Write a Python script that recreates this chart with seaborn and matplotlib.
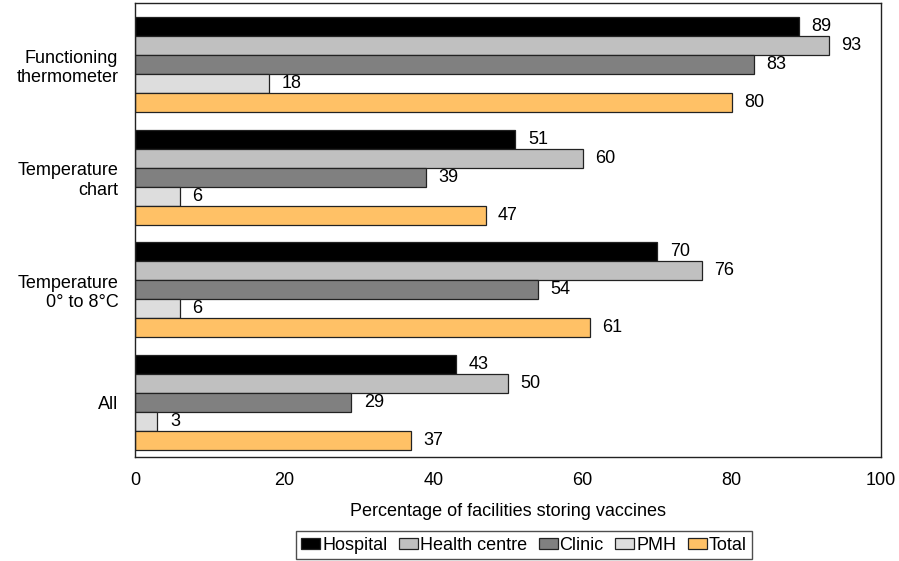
import matplotlib
matplotlib.use("Agg")
import matplotlib.pyplot as plt
import seaborn as sns
import pandas as pd
from matplotlib.patches import Patch

# Indicators (y categories) and facility types (hue)
indicators = ["Functioning\nthermometer", "Temperature\nchart", "Temperature\n0° to 8°C", "All"]
facilities = ["Hospital", "Health centre", "Clinic", "PMH", "Total"]

hospital = [89, 51, 70, 43]
health_centre = [93, 60, 76, 50]
clinic = [83, 39, 54, 29]
pmh = [18, 6, 6, 3]
total = [80, 47, 61, 37]

colors = ["#000000", "#C0C0C0", "#808080", "#DDDDDD", "#FFC166"]

series = [hospital, health_centre, clinic, pmh, total]
rows = []
for fac, vals in zip(facilities, series):
    for ind, v in zip(indicators, vals):
        rows.append({"indicator": ind, "facility": fac, "value": v})
df = pd.DataFrame(rows)

FS = 13

sns.set_theme(style="white")
plt.rcParams["font.family"] = ["Liberation Sans", "DejaVu Sans"]
plt.rcParams["font.size"] = FS
plt.rcParams["text.color"] = "black"
plt.rcParams["axes.labelcolor"] = "black"

fig = plt.figure(figsize=(8.99, 5.61), dpi=100)
ax = fig.add_axes([135 / 899, 104 / 561, 746 / 899, 454 / 561])

sns.barplot(
    data=df, y="indicator", x="value", hue="facility",
    order=indicators, hue_order=facilities,
    palette=dict(zip(facilities, colors)), saturation=1,
    orient="h", width=0.843, edgecolor="#222222", linewidth=0.9,
    errorbar=None, legend=False, ax=ax,
)

for cont in ax.containers:
    ax.bar_label(cont, fmt="%d", padding=9, fontsize=FS, color="black")

ax.set_xlim(0, 100)
ax.set_xticks([0, 20, 40, 60, 80, 100])
ax.set_ylim(3.484, -0.546)
ax.set_xlabel("Percentage of facilities storing vaccines", fontsize=FS,
              labelpad=10, color="black")
ax.set_ylabel("")
ax.tick_params(axis="both", length=0, labelsize=FS, colors="black")
ax.tick_params(axis="x", pad=11)
ax.tick_params(axis="y", pad=12)
for lab in ax.get_yticklabels():
    lab.set_multialignment("right")

for sp in ax.spines.values():
    sp.set_visible(True)
    sp.set_color("#222222")
    sp.set_linewidth(1.0)

handles = [Patch(facecolor=c, edgecolor="#222222", linewidth=0.9) for c in colors]
leg = fig.legend(
    handles, facilities, loc="center", ncol=5,
    bbox_to_anchor=(524 / 899, 16 / 561),
    frameon=True, fancybox=False, edgecolor="#222222",
    handlelength=1.05, handleheight=0.55, handletextpad=0.1,
    columnspacing=0.65, borderpad=0.3, borderaxespad=0.2, fontsize=FS,
)
leg.get_frame().set_linewidth(1.0)
for t in leg.get_texts():
    t.set_color("black")

fig.savefig("out.png", dpi=100, facecolor="white")
